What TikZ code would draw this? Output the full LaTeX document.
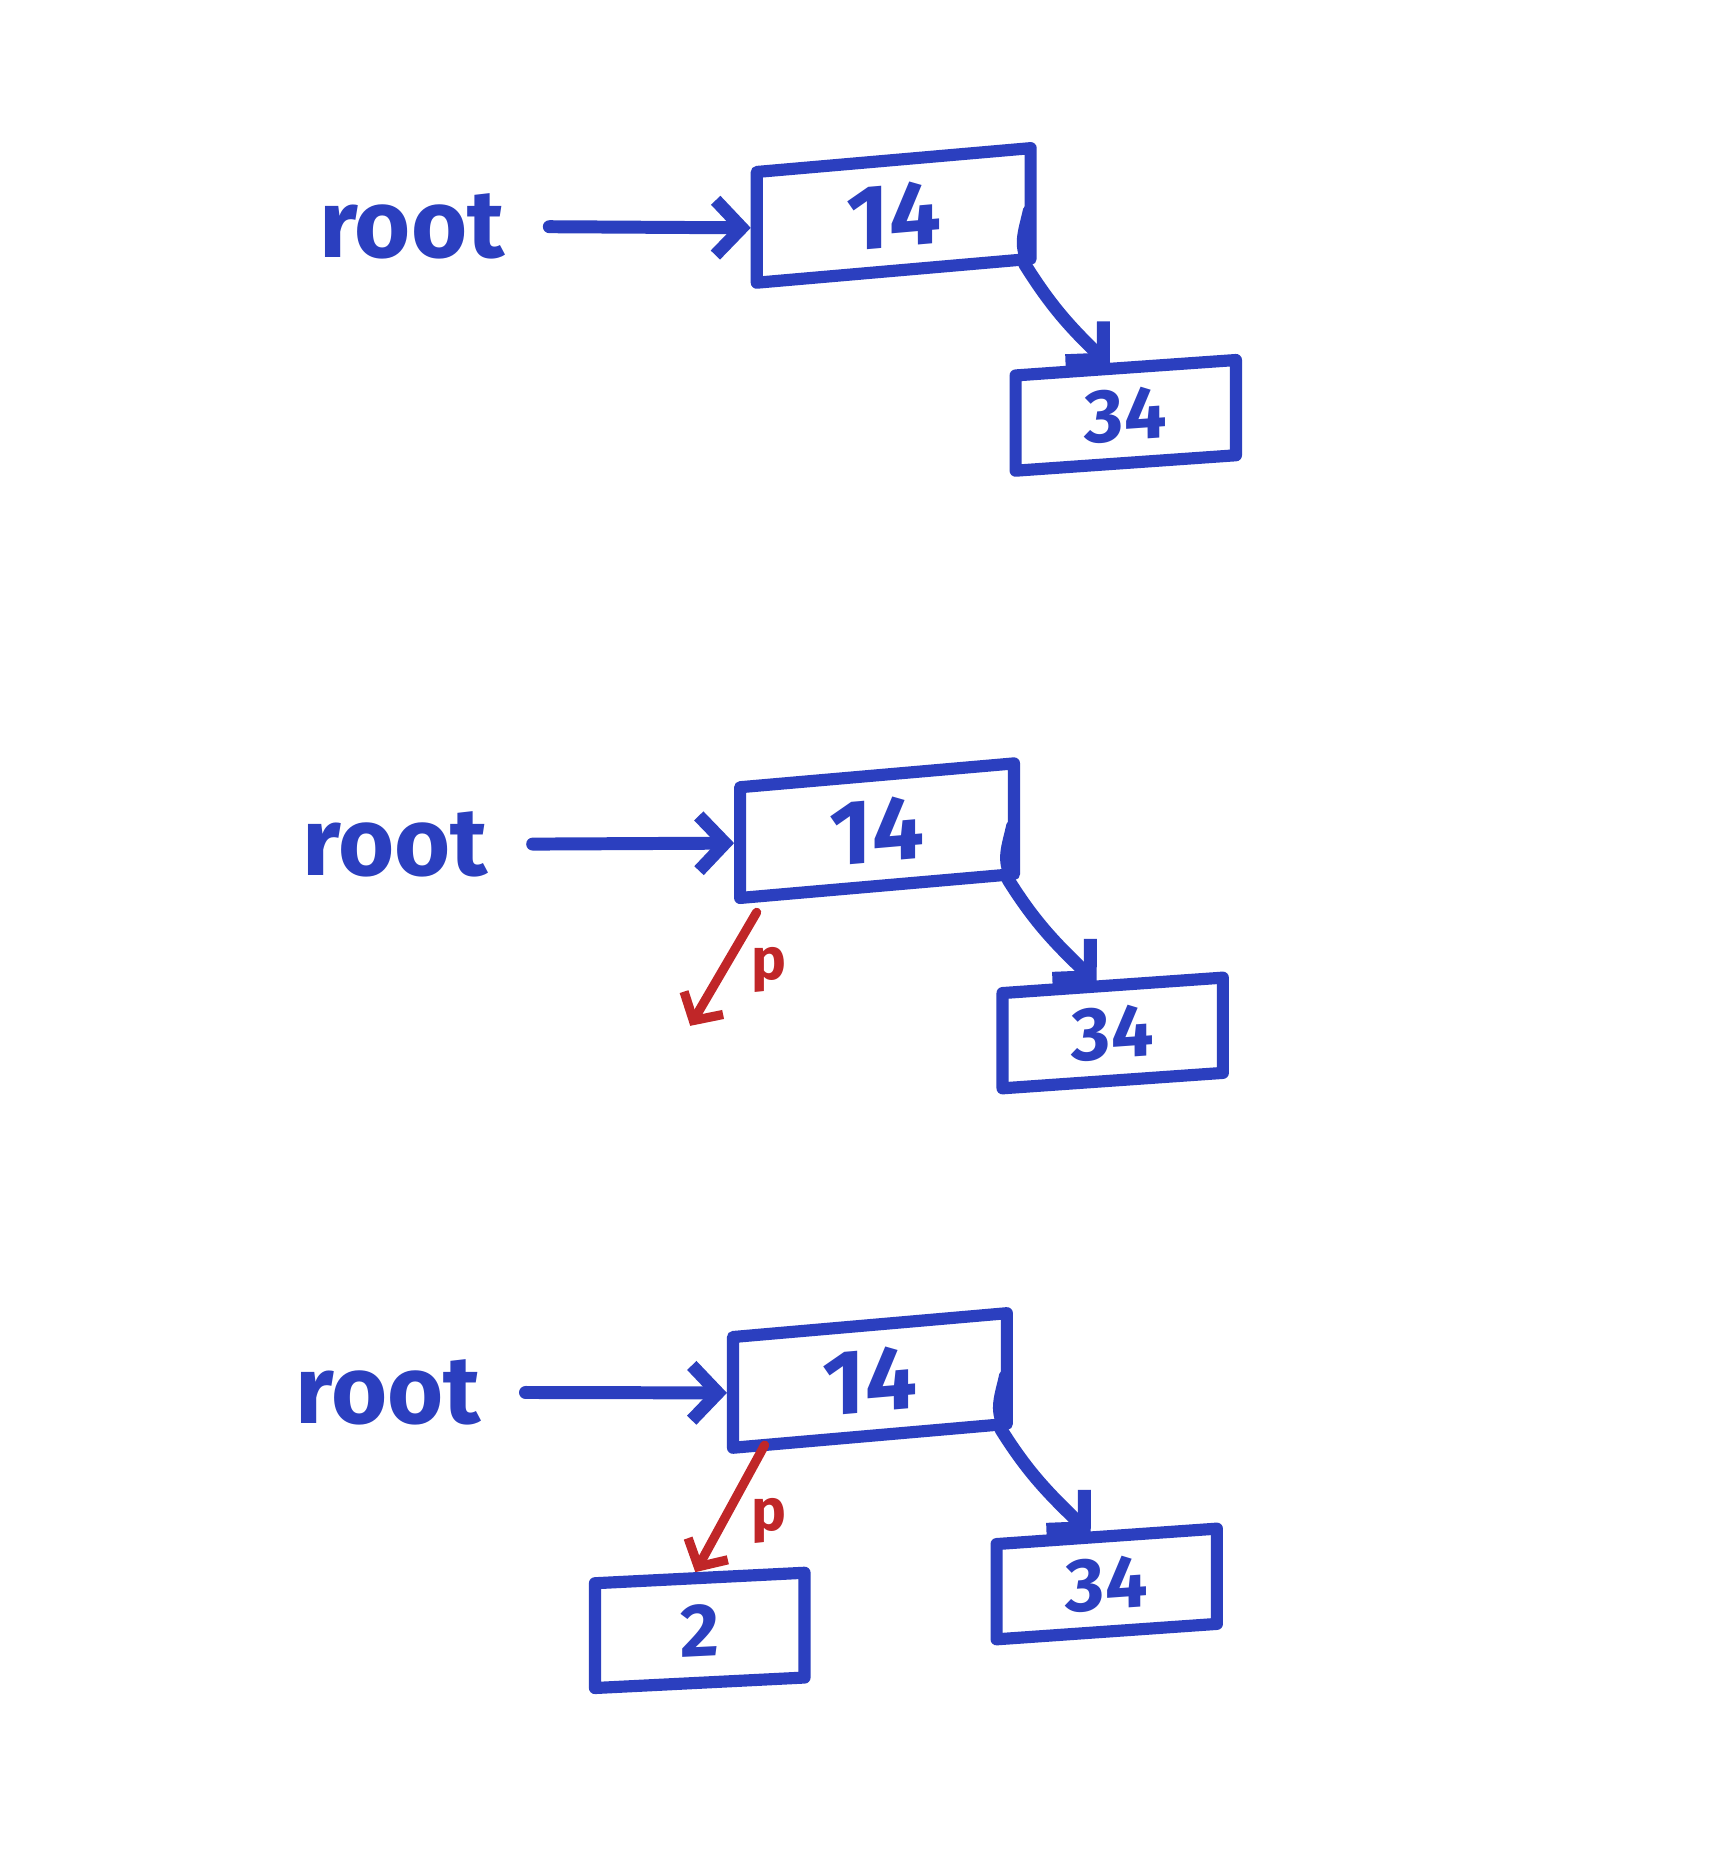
\documentclass[tikz,border=0pt]{standalone}
\usepackage{fontspec}
\setmainfont{Fira Sans}
\usetikzlibrary{arrows.meta,calc}

\definecolor{ink}{RGB}{43,63,191}
\definecolor{redink}{RGB}{192,38,40}

\tikzset{
  pen/.style={draw=ink, line width=2.9pt, line cap=round, line join=round},
  cell/.style={pen, rectangle, inner sep=0pt, text=ink,
    font=\bfseries\fontsize{18}{18}\selectfont},
  bigcell/.style={cell, minimum width=2.30cm, minimum height=0.93cm,
    yslant=0.087, font=\bfseries\fontsize{22}{22}\selectfont},
  smallcell/.style={cell, minimum width=1.85cm, minimum height=0.8cm, yslant=0.07},
  rootlabel/.style={text=ink, font=\bfseries\fontsize{23}{23}\selectfont,
    anchor=base, inner sep=2pt},
  plabel/.style={text=redink, font=\bfseries\fontsize{14}{14}\selectfont,
    inner sep=0pt},
  ptr/.style={pen, line width=3.1pt, -{Straight Barb[length=0.22cm,width=0.46cm]}},
  childptr/.style={ptr, shorten >=-0.03cm, out=-58, in=136},
  redptr/.style={draw=redink, line width=2.2pt, line cap=round, line join=round,
    -{Straight Barb[length=0.17cm,width=0.38cm]}},
  edgemark/.style={pen, line width=2pt}
}

\begin{document}
\begin{tikzpicture}[x=0.01cm, y=-0.01cm]
  \useasboundingbox[fill=white] (0,0) rectangle (1447,1568);

  % ---------- first tree: 14 with right child 34 ----------
  \node[rootlabel] (r1) at (346,216) {root};
  \node[bigcell] (a1) at (751,181) {14};
  \node[smallcell] (c1) at (946,349) {34};
  \draw[ptr, shorten <=0.3cm] (r1) -- (a1.west);
  \draw[edgemark] ($(a1.south east)+(-9,-2)$) .. controls +(-8,-15) and +(-4,18) .. ($(a1.south east)+(-8,-46)$);
  \draw[childptr] ([xshift=-0.1cm]a1.south east)
    to ($(c1.north west)!0.42!(c1.north east)$);

  % ---------- second tree: p points to the empty left slot ----------
  \node[rootlabel] (r2) at (332,736) {root};
  \node[bigcell] (a2) at (737,698) {14};
  \node[smallcell] (c2) at (935,868) {34};
  \draw[ptr, shorten <=0.3cm] (r2) -- (a2.west);
  \draw[edgemark] ($(a2.south east)+(-9,-2)$) .. controls +(-8,-15) and +(-4,18) .. ($(a2.south east)+(-8,-46)$);
  \draw[childptr] ([xshift=-0.1cm]a2.south east)
    to ($(c2.north west)!0.42!(c2.north east)$);
  \coordinate (e2) at (580,862);
  \draw[redptr, shorten <=0.1cm] ($(a2.south west)!0.1!(a2.south east)$) -- (e2);
  \node[plabel] (p2) at (646,815) {p};

  % ---------- third tree: new node 2 hung on the left ----------
  \node[rootlabel] (r3) at (326,1196) {root};
  \node[bigcell] (a3) at (731,1160) {14};
  \node[smallcell] (c3) at (930,1331) {34};
  \node[cell, yslant=0.05, minimum width=1.76cm, minimum height=0.88cm] (t3) at (588,1370) {2};
  \draw[ptr, shorten <=0.3cm] (r3) -- (a3.west);
  \draw[edgemark] ($(a3.south east)+(-9,-2)$) .. controls +(-8,-15) and +(-4,18) .. ($(a3.south east)+(-8,-46)$);
  \draw[childptr] ([xshift=-0.1cm]a3.south east)
    to ($(c3.north west)!0.42!(c3.north east)$);
  \draw[redptr, shorten <=-0.06cm] ($(a3.south west)!0.12!(a3.south east)$)
    -- ($(t3.north west)!0.48!(t3.north east)$);
  \node[plabel] (p3) at (646,1278) {p};
\end{tikzpicture}
\end{document}
